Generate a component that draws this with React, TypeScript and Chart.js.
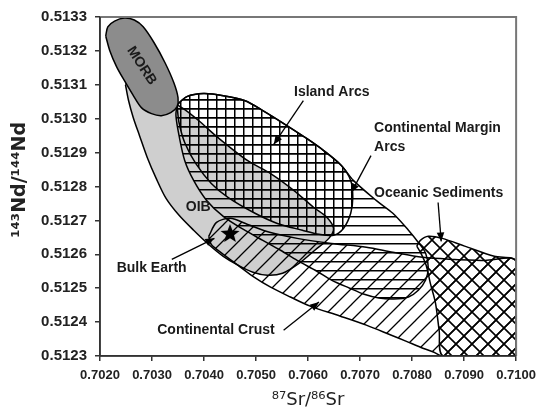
import React, { useEffect, useRef } from 'react';
import { Chart, registerables } from 'chart.js';

Chart.register(...registerables);

// ---- axis ticks ----
const xTickValues = [0.702, 0.703, 0.704, 0.705, 0.706, 0.707, 0.708, 0.709, 0.71];
const xTickLabels = ['0.7020', '0.7030', '0.7040', '0.7050', '0.7060', '0.7070', '0.7080', '0.7090', '0.7100'];
const yTickValues = [0.5123, 0.5124, 0.5125, 0.5126, 0.5127, 0.5128, 0.5129, 0.513, 0.5131, 0.5132, 0.5133];
const yTickLabels = ['0.5123', '0.5124', '0.5125', '0.5126', '0.5127', '0.5128', '0.5129', '0.5130', '0.5131', '0.5132', '0.5133'];

// ---- fields (87Sr/86Sr, 143Nd/144Nd outlines) ----
const morbX = [0.70211, 0.70215, 0.70228, 0.70247, 0.70266, 0.70283, 0.70304, 0.70325, 0.70342, 0.7035, 0.70348, 0.70336, 0.70318, 0.70299, 0.7028, 0.70263, 0.70247, 0.70232, 0.70219, 0.70211];
const morbY = [0.513244, 0.513271, 0.513288, 0.513297, 0.513291, 0.513271, 0.513224, 0.513165, 0.513106, 0.513062, 0.513035, 0.513018, 0.513009, 0.513015, 0.513032, 0.513071, 0.513112, 0.513153, 0.5132, 0.513244];

const oibX = [0.70249, 0.70255, 0.70264, 0.70276, 0.70291, 0.70308, 0.70327, 0.70352, 0.7038, 0.70409, 0.70437, 0.70465, 0.70494, 0.70522, 0.70551, 0.70585, 0.70613, 0.7064, 0.70649, 0.70636, 0.70611, 0.70573, 0.70528, 0.70484, 0.70427, 0.7039, 0.70361, 0.70336, 0.70295, 0.70266, 0.70249];
const oibY = [0.5131, 0.513053, 0.513003, 0.51295, 0.512885, 0.512824, 0.512765, 0.512715, 0.512671, 0.512629, 0.512594, 0.512568, 0.512547, 0.512538, 0.512544, 0.512576, 0.512612, 0.512647, 0.512676, 0.512709, 0.512738, 0.512788, 0.512838, 0.512876, 0.512944, 0.512994, 0.513029, 0.513053, 0.513097, 0.513135, 0.5131];

const islandX = [0.70348, 0.70367, 0.70399, 0.70437, 0.70479, 0.70513, 0.70554, 0.70598, 0.7063, 0.70664, 0.70682, 0.70686, 0.70682, 0.70668, 0.70649, 0.70621, 0.70589, 0.70541, 0.70498, 0.70446, 0.70414, 0.70384, 0.70363, 0.70352, 0.70348];
const islandY = [0.513041, 0.513065, 0.513074, 0.513068, 0.513053, 0.513024, 0.512985, 0.512941, 0.512906, 0.512862, 0.512818, 0.512768, 0.512721, 0.512676, 0.512656, 0.512659, 0.512671, 0.512691, 0.512721, 0.512768, 0.512809, 0.512868, 0.512929, 0.512988, 0.513041];

const marginX = [0.70348, 0.70367, 0.70399, 0.70437, 0.70479, 0.70513, 0.70554, 0.70598, 0.7063, 0.70664, 0.70687, 0.70731, 0.70763, 0.70793, 0.70812, 0.70826, 0.70831, 0.70826, 0.70812, 0.70793, 0.70765, 0.70736, 0.70708, 0.7068, 0.70645, 0.70617, 0.70579, 0.70547, 0.70513, 0.70475, 0.70437, 0.70405, 0.7038, 0.70363, 0.70352, 0.70346, 0.70348];
const marginY = [0.513041, 0.513065, 0.513074, 0.513068, 0.513053, 0.513024, 0.512985, 0.512941, 0.512906, 0.512862, 0.512818, 0.512759, 0.512721, 0.512671, 0.512635, 0.512603, 0.512562, 0.512524, 0.512494, 0.512474, 0.512468, 0.512471, 0.512482, 0.5125, 0.512524, 0.51255, 0.512582, 0.512612, 0.512641, 0.512674, 0.512712, 0.512759, 0.512818, 0.512876, 0.51295, 0.513009, 0.513041];

const crustX = [0.70409, 0.70424, 0.7045, 0.70484, 0.70526, 0.70579, 0.70645, 0.70712, 0.70763, 0.7082, 0.70882, 0.70939, 0.71, 0.71, 0.70858, 0.70841, 0.70816, 0.70788, 0.70759, 0.70712, 0.70661, 0.70604, 0.70566, 0.70528, 0.70494, 0.70465, 0.70437, 0.70414, 0.70409];
const crustY = [0.512653, 0.512694, 0.512706, 0.512688, 0.512665, 0.512647, 0.512632, 0.512621, 0.512606, 0.512591, 0.512585, 0.512582, 0.512579, 0.5123, 0.5123, 0.512312, 0.512326, 0.512344, 0.512362, 0.512391, 0.512418, 0.512447, 0.512474, 0.512503, 0.512535, 0.512568, 0.5126, 0.512629, 0.512653];

const sedimentX = [0.70809, 0.70816, 0.70831, 0.70858, 0.70901, 0.70958, 0.71, 0.71, 0.7086, 0.70852, 0.70845, 0.70835, 0.70827, 0.70816, 0.70809];
const sedimentY = [0.512624, 0.512641, 0.512653, 0.512647, 0.512624, 0.512594, 0.512579, 0.5123, 0.5123, 0.512376, 0.512456, 0.512515, 0.512568, 0.512606, 0.512624];

// ---- Bulk Earth ----
const bulkEarthX = [0.7045];
const bulkEarthY = [0.51266];

// ---- label arrows (start -> tip) ----
const arrowIslandX = [0.70591, 0.70534];
const arrowIslandY = [0.513053, 0.512924];
const arrowMarginX = [0.70721, 0.70683];
const arrowMarginY = [0.512891, 0.512782];
const arrowSedimentX = [0.7085, 0.70856];
const arrowSedimentY = [0.512753, 0.512638];
const arrowBulkX = [0.70338, 0.7042];
const arrowBulkY = [0.512585, 0.512647];
const arrowCrustX = [0.70553, 0.70621];
const arrowCrustY = [0.512376, 0.512459];

// ---- labels ----
const labelTexts = ['MORB', 'OIB', 'Island Arcs', 'Continental Margin', 'Arcs', 'Oceanic Sediments', 'Bulk Earth', 'Continental Crust'];
const labelX = [0.7028, 0.70365, 0.70573, 0.70727, 0.70727, 0.70727, 0.70232, 0.7031];
const labelY = [0.513156, 0.512738, 0.513079, 0.512971, 0.512915, 0.512779, 0.512559, 0.512376];

function zip(xs: number[], ys: number[]) {
  return xs.map((x, i) => ({ x, y: ys[i] }));
}

function hatch(kind: string, size: number, lw: number): CanvasPattern {
  const c = document.createElement('canvas');
  c.width = size;
  c.height = size;
  const g = c.getContext('2d')!;
  g.strokeStyle = '#000';
  g.lineWidth = lw;
  g.beginPath();
  if (kind === 'grid' || kind === 'h') {
    g.moveTo(0, 0.75);
    g.lineTo(size, 0.75);
  }
  if (kind === 'grid') {
    g.moveTo(0.75, 0);
    g.lineTo(0.75, size);
  }
  if (kind === 'fwd' || kind === 'x') {
    for (const k of [0, size, 2 * size]) {
      g.moveTo(k + 1, -1);
      g.lineTo(k - size - 1, size + 1);
    }
  }
  if (kind === 'x') {
    for (const k of [-size, 0, size]) {
      g.moveTo(-1, k - 1);
      g.lineTo(size + 1, k + size + 1);
    }
  }
  g.stroke();
  return g.createPattern(c, 'repeat')!;
}

function makeStar(r: number): HTMLCanvasElement {
  const s = Math.ceil(r * 2 + 2);
  const c = document.createElement('canvas');
  c.width = s;
  c.height = s;
  const g = c.getContext('2d')!;
  g.translate(s / 2, s / 2);
  g.beginPath();
  for (let i = 0; i < 10; i++) {
    const rr = i % 2 === 0 ? r : r * 0.42;
    const a = -Math.PI / 2 + (i * Math.PI) / 5;
    g.lineTo(rr * Math.cos(a), rr * Math.sin(a));
  }
  g.closePath();
  g.fillStyle = '#000';
  g.fill();
  return c;
}

const annotPlugin = {
  id: 'annot',
  afterDatasetsDraw(chart: any) {
    const { ctx, chartArea: a, scales } = chart;
    const xs = scales.x;
    const ys = scales.y;
    ctx.save();
    // frame
    ctx.strokeStyle = '#777';
    ctx.lineWidth = 2;
    ctx.beginPath();
    ctx.moveTo(a.left, a.top);
    ctx.lineTo(a.right, a.top);
    ctx.lineTo(a.right, a.bottom);
    ctx.stroke();
    ctx.strokeStyle = '#333';
    ctx.lineWidth = 1.6;
    ctx.beginPath();
    ctx.moveTo(a.left, a.top);
    ctx.lineTo(a.left, a.bottom);
    ctx.lineTo(a.right, a.bottom);
    ctx.stroke();

    // arrowheads
    chart.data.datasets.forEach((ds: any, i: number) => {
      if (!ds.isArrow) return;
      const pts = chart.getDatasetMeta(i).data;
      const p0 = pts[pts.length - 2];
      const p1 = pts[pts.length - 1];
      const th = Math.atan2(p1.y - p0.y, p1.x - p0.x);
      const L = 9;
      const W = 3.8;
      const bx = p1.x - L * Math.cos(th);
      const by = p1.y - L * Math.sin(th);
      ctx.fillStyle = '#000';
      ctx.beginPath();
      ctx.moveTo(p1.x, p1.y);
      ctx.lineTo(bx - W * Math.sin(th), by + W * Math.cos(th));
      ctx.lineTo(bx + W * Math.sin(th), by - W * Math.cos(th));
      ctx.closePath();
      ctx.fill();
    });

    // labels
    ctx.fillStyle = '#1a1a1a';
    ctx.textBaseline = 'middle';
    labelTexts.forEach((t, i) => {
      const px = xs.getPixelForValue(labelX[i]);
      const py = ys.getPixelForValue(labelY[i]);
      ctx.font = 'bold 14px "Liberation Sans", Arial, sans-serif';
      if (i === 0) {
        ctx.save();
        ctx.translate(px, py);
        ctx.rotate((57 * Math.PI) / 180);
        ctx.textAlign = 'center';
        ctx.fillText(t, 0, 0);
        ctx.restore();
      } else {
        ctx.textAlign = 'left';
        ctx.fillText(t, px, py);
      }
    });
    ctx.restore();
  },
};

export default function App() {
  const ref = useRef<HTMLCanvasElement>(null);

  useEffect(() => {
    const canvas = ref.current!;
    const star = makeStar(10);
    const poly = (label: string, xs: number[], ys: number[], bg: any, order: number) => ({
      type: 'line',
      label,
      data: zip(xs, ys),
      fill: 'shape',
      backgroundColor: bg,
      borderColor: '#000',
      borderWidth: 1.5,
      pointRadius: 0,
      tension: 0.3,
      order,
    });
    const arrow = (xs: number[], ys: number[]) => ({
      type: 'line',
      isArrow: true,
      data: zip(xs, ys),
      fill: false,
      borderColor: '#000',
      borderWidth: 1.3,
      pointRadius: 0,
      tension: 0,
      order: 2,
    });

    const chart = new Chart(canvas, {
      type: 'line',
      data: {
        datasets: [
          poly('OIB', oibX, oibY, '#cfcfcf', 20),
          poly('Continental Crust', crustX, crustY, hatch('fwd', 16, 1.3), 19),
          poly('Continental Margin Arcs', marginX, marginY, hatch('h', 9, 1.5), 18),
          poly('Island Arcs', islandX, islandY, hatch('grid', 9, 1.5), 17),
          poly('Oceanic Sediments', sedimentX, sedimentY, hatch('x', 16, 1.6), 16),
          poly('MORB', morbX, morbY, '#8c8c8c', 15),
          arrow(arrowIslandX, arrowIslandY),
          arrow(arrowMarginX, arrowMarginY),
          arrow(arrowSedimentX, arrowSedimentY),
          arrow(arrowBulkX, arrowBulkY),
          arrow(arrowCrustX, arrowCrustY),
          {
            type: 'line',
            label: 'Bulk Earth',
            data: zip(bulkEarthX, bulkEarthY),
            showLine: false,
            pointStyle: star,
            pointRadius: 10,
            order: 1,
          },
        ] as any,
      },
      options: {
        animation: false,
        responsive: false,
        maintainAspectRatio: false,
        devicePixelRatio: 1,
        events: [],
        layout: { padding: { top: 16, right: 21, left: 0, bottom: 0 } },
        plugins: {
          legend: { display: false },
          tooltip: { enabled: false },
        },
        scales: {
          x: {
            type: 'linear',
            min: 0.702,
            max: 0.71,
            afterBuildTicks: (s: any) => {
              s.ticks = xTickValues.map((v) => ({ value: v }));
            },
            afterFit: (s: any) => {
              s.height = 55;
            },
            ticks: {
              autoSkip: false,
              maxRotation: 0,
              padding: 7,
              color: '#222',
              font: { family: '"Liberation Sans", Arial, sans-serif', size: 13, weight: 'bold' },
              callback: (_v: any, i: number) => xTickLabels[i],
            },
            grid: { drawOnChartArea: false, tickLength: 5, color: '#333', lineWidth: 1.5 },
            border: { display: true, color: '#333', width: 1.5 },
            title: {
              display: true,
              text: '⁸⁷Sr/⁸⁶Sr',
              color: '#222',
              font: { family: '"DejaVu Sans", sans-serif', size: 18, weight: 'normal' },
              padding: { top: 0, bottom: 0 },
            },
          },
          y: {
            type: 'linear',
            min: 0.5123,
            max: 0.5133,
            afterBuildTicks: (s: any) => {
              s.ticks = yTickValues.map((v) => ({ value: v }));
            },
            afterFit: (s: any) => {
              s.width = 100;
            },
            ticks: {
              autoSkip: false,
              padding: 8,
              color: '#222',
              font: { family: '"Liberation Sans", Arial, sans-serif', size: 15, weight: 'bold' },
              callback: (_v: any, i: number) => yTickLabels[i],
            },
            grid: { drawOnChartArea: false, tickLength: 5, color: '#333', lineWidth: 1.5 },
            border: { display: true, color: '#333', width: 1.5 },
            title: {
              display: true,
              text: '  ¹⁴³Nd/¹⁴⁴Nd',
              color: '#222',
              font: { family: '"DejaVu Sans", sans-serif', size: 19, weight: 'bold' },
              padding: { top: 9, bottom: 0 },
            },
          },
        },
      } as any,
      plugins: [annotPlugin],
    });
    return () => chart.destroy();
  }, []);

  return (
    <div style={{ position: 'fixed', left: 0, top: 0, width: 543, height: 411, background: '#fff' }}>
      <canvas ref={ref} width={543} height={411} style={{ width: 543, height: 411, display: 'block' }} />
    </div>
  );
}
